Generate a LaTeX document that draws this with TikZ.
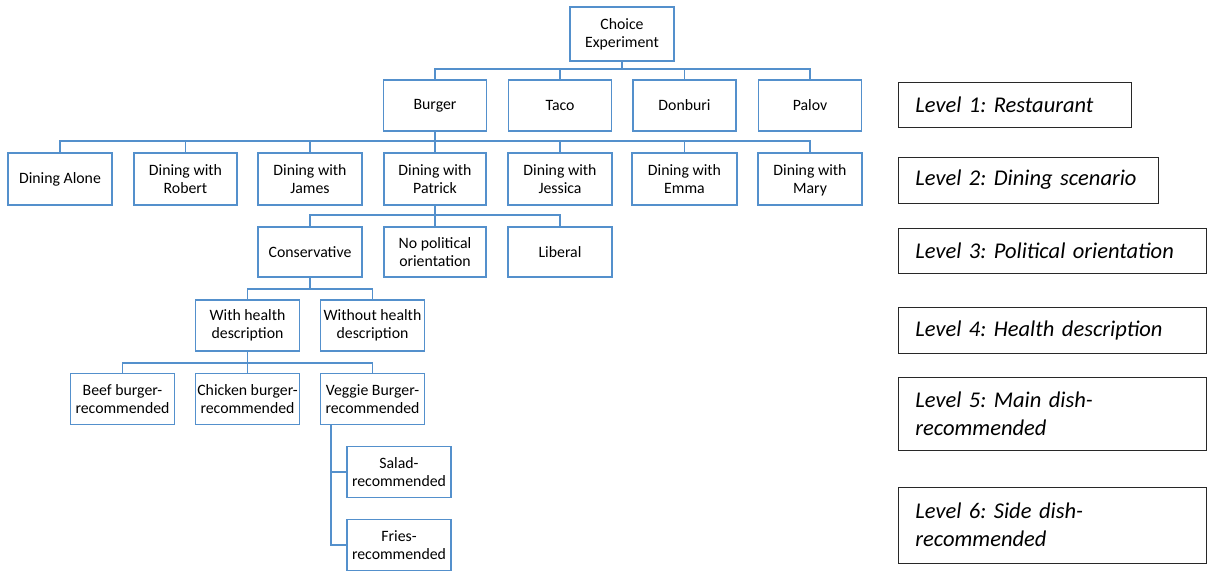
\documentclass[tikz,border=0pt]{standalone}
\usepackage{fontspec}
\setmainfont{Carlito}
\usetikzlibrary{calc}
\frenchspacing
\definecolor{boxblue}{RGB}{84,144,204}
\definecolor{lvlline}{RGB}{40,40,40}
\tikzset{
  tbox/.style={draw=boxblue, line width=1.6pt, align=center, inner sep=1pt,
    font=\fontsize{15.8}{18}\selectfont, text=black},
  lbox/.style={draw=lvlline, line width=0.9pt, anchor=west, align=left, inner xsep=17pt,
    font=\fontsize{22.5}{28}\selectfont\itshape},
  conn/.style={draw=boxblue, line width=1.6pt},
}
\begin{document}
\begin{tikzpicture}[x=1pt,y=-1pt]
\useasboundingbox (0,0) rectangle (1209,571);
% root
\node[tbox, minimum width=104pt, minimum height=54pt] (ce) at (622,34) {Choice\\Experiment};
% level 1
\foreach \n/\x/\t in {burger/435/Burger, taco/560/Taco, donburi/684.5/Donburi, palov/810/Palov}
  \node[tbox, minimum width=103pt, minimum height=51pt] (\n) at (\x,105.5) {\t};
% level 2
\node[tbox, minimum width=104pt, minimum height=52pt] (alone) at (60,179) {Dining Alone};
\node[tbox, minimum width=103pt, minimum height=52pt] (robert) at (185.5,179) {Dining with\\Robert};
\node[tbox, minimum width=104pt, minimum height=52pt] (james) at (310,179) {Dining with\\James};
\node[tbox, minimum width=102pt, minimum height=52pt] (patrick) at (435,179) {Dining with\\Patrick};
\node[tbox, minimum width=104pt, minimum height=52pt] (jessica) at (560,179) {Dining with\\Jessica};
\node[tbox, minimum width=105pt, minimum height=52pt] (emma) at (684.5,179) {Dining with\\Emma};
\node[tbox, minimum width=104pt, minimum height=52pt] (mary) at (810,179) {Dining with\\\smash{Mary}};
% level 3
\node[tbox, minimum width=104pt, minimum height=50pt] (cons) at (310,252) {Conservative};
\node[tbox, minimum width=102pt, minimum height=50pt] (nopol) at (435,252) {No political\\orientation};
\node[tbox, minimum width=104pt, minimum height=50pt] (lib) at (560,252) {Liberal};
% level 4
\node[tbox, minimum width=104pt, minimum height=51pt] (with) at (247.5,325.5) {With health\\description};
\node[tbox, minimum width=104pt, minimum height=51pt] (without) at (372.5,325.5) {Without health\\description};
% level 5
\node[tbox, minimum width=104pt, minimum height=51pt] (beef) at (122.5,399) {Beef burger-\\recommended};
\node[tbox, minimum width=104pt, minimum height=51pt] (chicken) at (247.5,399) {Chicken burger-\\recommended};
\node[tbox, minimum width=104pt, minimum height=51pt] (veggie) at (372.5,399) {Veggie Burger-\\recommended};
% level 6
\node[tbox, minimum width=104pt, minimum height=51pt] (salad) at (399,472) {Salad-\\recommended};
\node[tbox, minimum width=104pt, minimum height=51pt] (fries) at (399,545) {Fries-\\recommended};
% connectors
\foreach \c in {burger,taco,donburi,palov}
  \draw[conn] (\c.north) -- ++(0,-10) -| (ce.south);
\foreach \c in {alone,robert,james,patrick,jessica,emma,mary}
  \draw[conn] (\c.north) -- ++(0,-11) -| (burger.south);
\foreach \c in {cons,nopol,lib}
  \draw[conn] (\c.north) -- ++(0,-11) -| (patrick.south);
\foreach \c in {with,without}
  \draw[conn] (\c.north) -- ++(0,-10) -| (cons.south);
\foreach \c in {beef,chicken,veggie}
  \draw[conn] (\c.north) -- ++(0,-10) -| (with.south);
\coordinate (vtop) at ($(veggie.south west)+(11,0)$);
\draw[conn] (salad.west) -| (vtop);
\draw[conn] (fries.west) -| (vtop);
% level labels
\node[lbox, text width=199pt, minimum height=45pt] (l1) at (898,104.5) {Level 1: Restaurant};
\node[lbox, text width=226pt, minimum height=46pt] (l2) at (898,180) {Level 2: Dining scenario};
\node[lbox, text width=274pt, minimum height=45pt] (l3) at (898,250.5) {Level 3: Political orientation};
\node[lbox, text width=274pt, minimum height=46pt] (l4) at (898,330) {Level 4: Health description};
\node[lbox, text width=274pt, minimum height=73pt] (l5) at (898,413.5) {Level 5: Main dish-\\recommended};
\node[lbox, text width=274pt, minimum height=76pt] (l6) at (898,525) {Level 6: Side dish-\\recommended};
\end{tikzpicture}
\end{document}
